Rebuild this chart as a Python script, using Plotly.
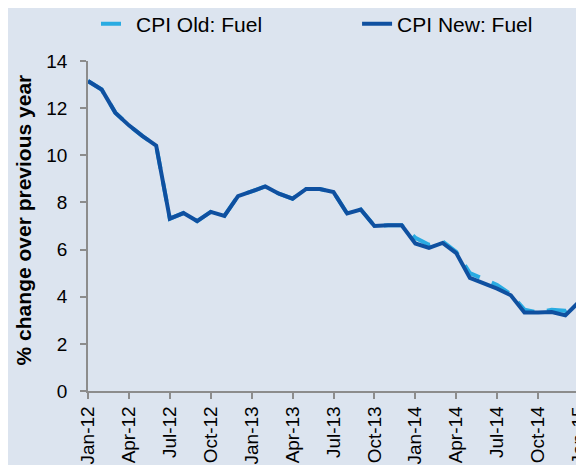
import plotly.graph_objects as go

months = ["Jan-12","Feb-12","Mar-12","Apr-12","May-12","Jun-12","Jul-12","Aug-12","Sep-12","Oct-12","Nov-12","Dec-12",
          "Jan-13","Feb-13","Mar-13","Apr-13","May-13","Jun-13","Jul-13","Aug-13","Sep-13","Oct-13","Nov-13","Dec-13",
          "Jan-14","Feb-14","Mar-14","Apr-14","May-14","Jun-14","Jul-14","Aug-14","Sep-14","Oct-14","Nov-14","Dec-14",
          "Jan-15"]

cpi_new = [13.15, 12.79, 11.81, 11.27, 10.81, 10.41, 7.31, 7.55, 7.21, 7.60, 7.43, 8.27,
           8.47, 8.68, 8.37, 8.16, 8.57, 8.57, 8.44, 7.53, 7.70, 7.00, 7.03, 7.03,
           6.26, 6.07, 6.28, 5.85, 4.80, 4.58, 4.34, 4.06, 3.33, 3.33, 3.35, 3.21,
           3.78]

cpi_old = [13.15, 12.79, 11.81, 11.27, 10.81, 10.41, 7.31, 7.55, 7.21, 7.60, 7.43, 8.27,
           8.47, 8.68, 8.37, 8.16, 8.57, 8.57, 8.44, 7.53, 7.70, 7.00, 7.03, 7.03,
           6.50, 6.20, 6.35, 5.90, 5.00, 4.75, 4.50, 4.10, 3.45, 3.33, 3.45, 3.40,
           3.78]

tick_labels = months[::3]
y_title = "% change over previous year"

FONT = "Liberation Sans, Arial, sans-serif"

fig = go.Figure()
fig.add_trace(go.Scatter(
    x=months, y=cpi_old, name="CPI Old: Fuel", mode="lines", legend="legend",
    line=dict(color="#29abe2", width=4, dash="20px,13px"),
))
fig.add_trace(go.Scatter(
    x=months, y=cpi_new, name="CPI New: Fuel", mode="lines", legend="legend2",
    line=dict(color="#0f50a0", width=4),
))

tick_font = dict(family=FONT, size=19, color="#000000")
legend_font = dict(family=FONT, size=21, color="#000000")

fig.update_layout(
    width=584, height=465,
    paper_bgcolor="#dce4ef", plot_bgcolor="#dce4ef",
    margin=dict(l=80, r=13, t=53, b=82, autoexpand=False),
    font=dict(family=FONT, size=19, color="#000000"),
    showlegend=True,
    legend=dict(orientation="h", x=0.0163, xanchor="left", y=1.112, yanchor="middle",
                font=legend_font, bgcolor="rgba(0,0,0,0)"),
    legend2=dict(orientation="h", x=0.548, xanchor="left", y=1.112, yanchor="middle",
                 font=legend_font, bgcolor="rgba(0,0,0,0)"),
    xaxis=dict(
        type="category", range=[0, 36], tickmode="array", tickvals=tick_labels, ticktext=tick_labels,
        tickangle=-90, showline=True, linecolor="#8c8c8c", linewidth=1.5,
        ticks="outside", ticklen=6, tickcolor="#8c8c8c", tickwidth=1.5,
        showgrid=False, zeroline=False, tickfont=tick_font, ticklabelstandoff=0,
        automargin=False,
    ),
    yaxis=dict(
        range=[0, 14], dtick=2, showline=True, linecolor="#8c8c8c", linewidth=1.5,
        ticks="outside", ticklen=6, tickcolor="#8c8c8c", tickwidth=1.5,
        showgrid=False, zeroline=False, tickfont=tick_font, ticklabelstandoff=9,
        automargin=False,
    ),
    annotations=[dict(
        text="<b>" + y_title + "</b>", textangle=-90, showarrow=False,
        xref="paper", yref="paper", x=-0.1324, y=0.52, xanchor="center", yanchor="middle",
        font=dict(family=FONT, size=21, color="#000000"),
    )],
)

fig.write_html("out.html")
